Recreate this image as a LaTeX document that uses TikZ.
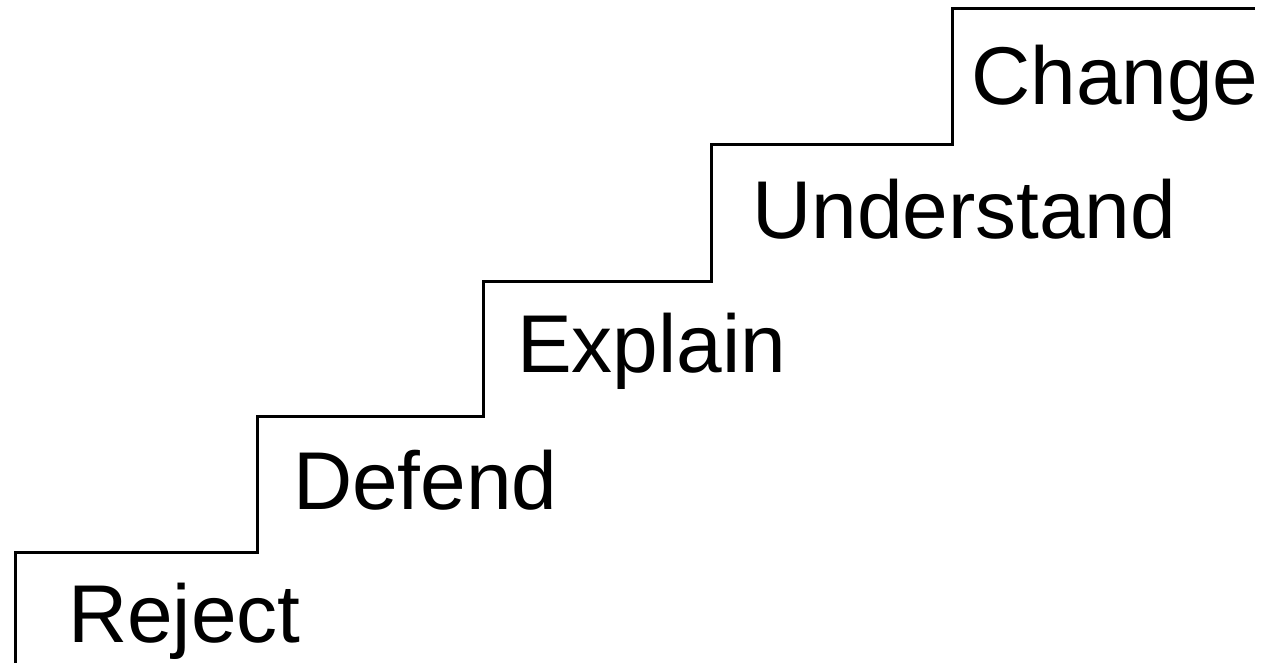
\documentclass[tikz,border=0pt]{standalone}
\usepackage{fontspec}
\setmainfont{Liberation Sans}

\begin{document}
\begin{tikzpicture}[
  x=1pt, y=-1pt,
  stair/.style={line width=3pt, line cap=rect},
  lbl/.style={anchor=base west, inner sep=0pt, font=\fontsize{82}{98}\selectfont}]
  \useasboundingbox (0,0) rectangle (1278,662);
  % corners of the steps
  \coordinate (foot) at (15,664);
  \coordinate (c1) at (257,552);
  \coordinate (c2) at (483,416);
  \coordinate (c3) at (711,281);
  \coordinate (c4) at (952,144);
  \coordinate (top) at (1253,8);
  \draw[stair] (foot) |- (c1) |- (c2) |- (c3) |- (c4) |- (top);
  % one word per step
  \node[lbl] (reject) at (68,642) {Reject};
  \node[lbl] (defend) at (293,509) {Defend};
  \node[lbl] (explain) at (517,372) {Explain};
  \node[lbl] (understand) at (752,238) {Understand};
  \node[lbl] (change) at (971,104) {Change};
\end{tikzpicture}
\end{document}
